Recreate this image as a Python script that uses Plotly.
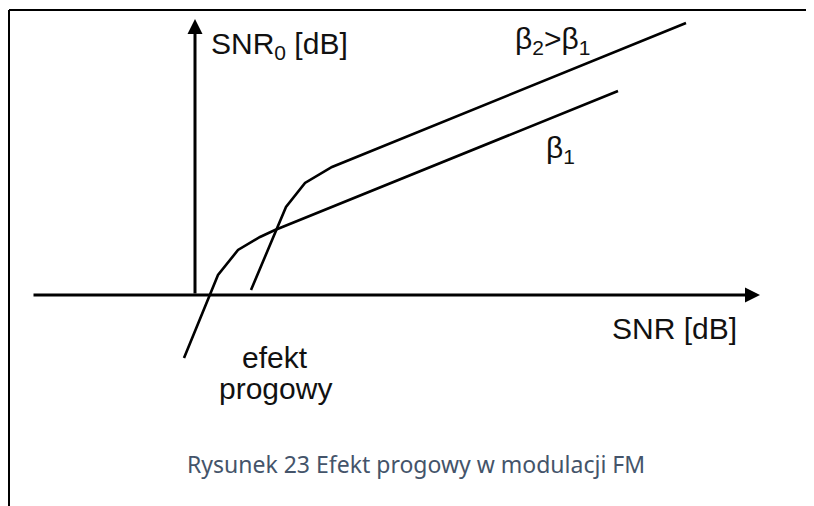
import plotly.graph_objects as go

# Schematic data (arbitrary units, SNR in dB)
beta1_x = [-1.1, 2.3, 4.3, 6.5, 8.0, 42.3]
beta1_y = [-6.3, 2.0, 4.5, 5.8, 6.5, 20.4]
beta2_x = [5.6, 9.1, 11.0, 13.7, 49.1]
beta2_y = [0.5, 8.8, 11.2, 12.8, 27.2]

x_axis_start, x_axis_end = -16.3, 56.5
y_axis_start, y_axis_end = 0.0, 27.6

fig = go.Figure()
for xs, ys in [(beta1_x, beta1_y), (beta2_x, beta2_y)]:
    fig.add_trace(go.Scatter(x=xs, y=ys, mode="lines",
                             line=dict(color="black", width=2.6),
                             hoverinfo="skip", showlegend=False))

# axes with arrows
fig.add_annotation(x=x_axis_end, y=0, ax=x_axis_start, ay=0,
                   xref="x", yref="y", axref="x", ayref="y",
                   showarrow=True, arrowhead=2, arrowwidth=3, arrowsize=1,
                   arrowcolor="black", text="")
fig.add_annotation(x=0, y=y_axis_end, ax=0, ay=y_axis_start,
                   xref="x", yref="y", axref="x", ayref="y",
                   showarrow=True, arrowhead=2, arrowwidth=3, arrowsize=1,
                   arrowcolor="black", text="")

lab_font = dict(family="Arial, 'Liberation Sans', sans-serif", size=30, color="#111111")
labels = [
    ("SNR<sub>0</sub> [dB]", 1.4, 25.0, "left"),
    ("β<sub>2</sub>>β<sub>1</sub>", 31.8, 25.5, "left"),
    ("β<sub>1</sub>", 34.9, 14.6, "left"),
    ("SNR [dB]", 41.5, -3.3, "left"),
    ("efekt", 8.0, -6.26, "center"),
    ("progowy", 8.0, -9.36, "center"),
]
for t, x, y, xa in labels:
    fig.add_annotation(x=x, y=y, text=t, showarrow=False, xref="x", yref="y",
                       xanchor=xa, yanchor="middle", font=lab_font)

fig.add_annotation(x=22.1, y=-16.85, text="Rysunek 23 Efekt progowy w modulacji FM",
                   showarrow=False, xref="x", yref="y", xanchor="center", yanchor="middle",
                   font=dict(family="Noto Sans", size=23, color="#44546a"))

# page border (top and left)
W, H = 806, 498
fig.add_shape(type="line", xref="paper", yref="paper", x0=1 / W, x1=1.0,
              y0=1 - 2 / H, y1=1 - 2 / H, line=dict(color="black", width=2))
fig.add_shape(type="line", xref="paper", yref="paper", x0=1 / W, x1=1 / W,
              y0=0, y1=1 - 2 / H, line=dict(color="black", width=2))

fig.update_xaxes(range=[-18.7, 61.9], visible=False)
fig.update_yaxes(range=[-21.1, 28.7], visible=False)
fig.update_layout(width=W, height=H, margin=dict(l=0, r=0, t=0, b=0),
                  paper_bgcolor="white", plot_bgcolor="white")
fig.write_html("out.html")
